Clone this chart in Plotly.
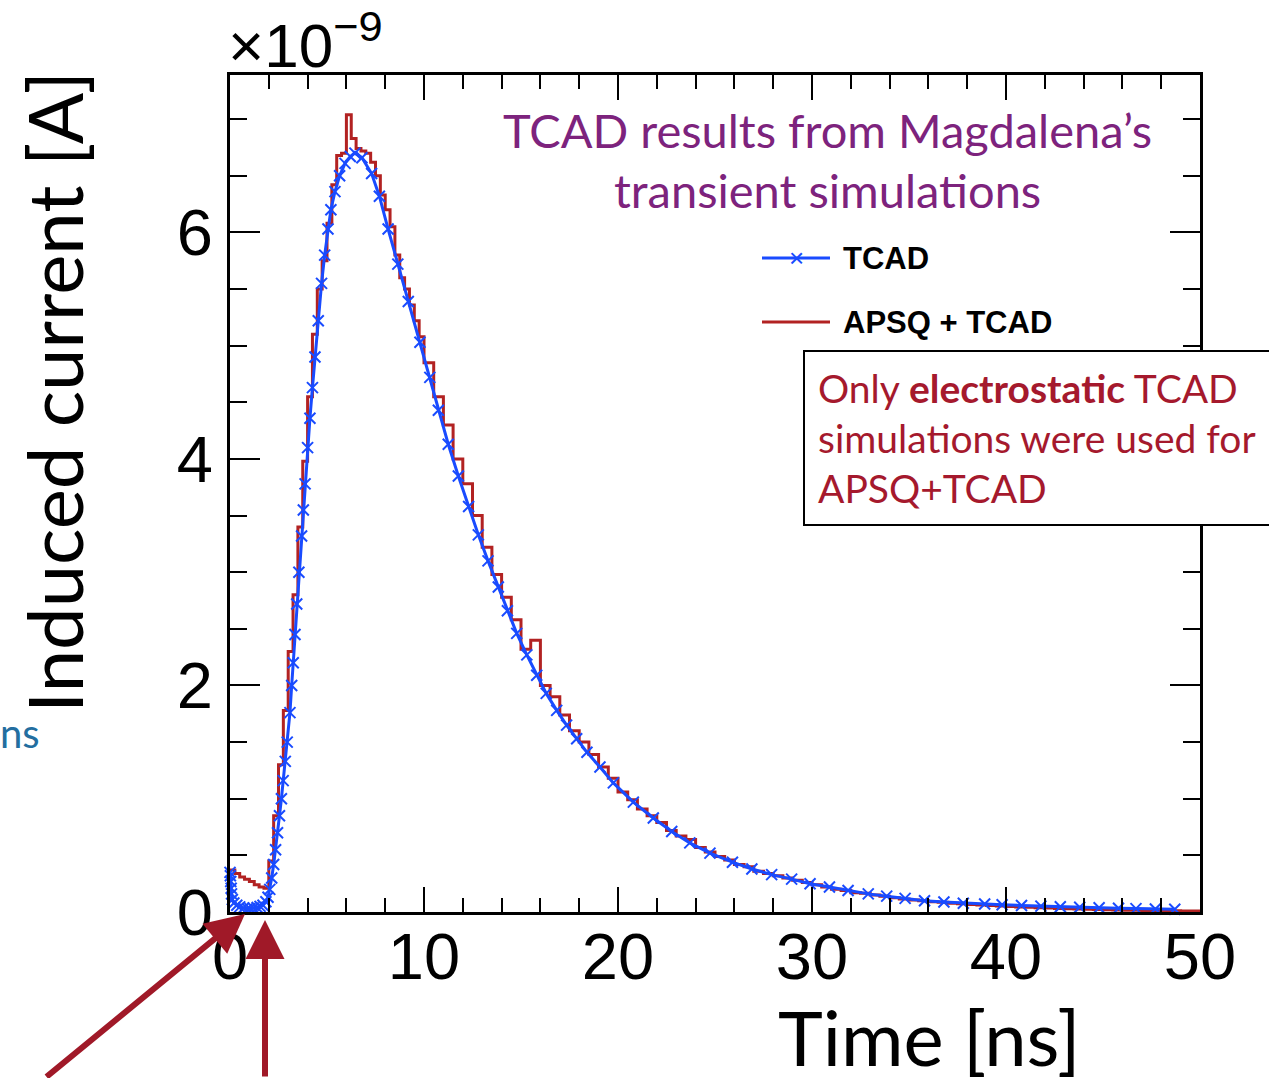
import plotly.graph_objects as go

# ---------------- data ----------------
# TCAD transient simulation (blue, markers at simulation time steps) [ns], [1e-9 A]
tcad_t = [0.0, 0.02, 0.04, 0.06, 0.08, 0.12, 0.2, 0.35, 0.5, 0.7, 0.9, 1.03, 1.2, 1.4, 1.55, 1.7, 1.85,
          1.96, 2.05, 2.15, 2.25, 2.35, 2.45, 2.55, 2.65, 2.74, 2.85, 2.95, 3.09, 3.18, 3.26, 3.35,
          3.44, 3.55, 3.69, 3.78, 3.87, 4.0, 4.12, 4.25, 4.38, 4.55, 4.72, 4.88, 5.05, 5.2, 5.41,
          5.65, 5.93, 6.2, 6.44, 6.8, 7.3, 7.7, 8.15, 8.65, 9.19, 9.79, 10.3, 10.74, 11.25, 11.77,
          12.3, 12.8, 13.3, 13.83, 14.3, 14.78, 15.3, 15.81, 16.3, 16.84, 17.35, 17.87, 18.4, 19.07,
          19.76, 20.79, 21.82, 22.77, 23.7, 24.74, 25.9, 26.9, 27.92, 28.95, 29.9, 30.9, 31.86,
          32.9, 33.85, 34.8, 35.8, 36.8, 37.8, 38.9, 39.8, 40.8, 41.8, 42.8, 43.8, 44.8, 45.8,
          46.7, 47.7, 48.7]
tcad_i = [0.35, 0.32, 0.27, 0.21, 0.16, 0.11, 0.08, 0.06, 0.045, 0.035, 0.03, 0.03, 0.035, 0.04, 0.05,
          0.06, 0.09, 0.13, 0.2, 0.3, 0.42, 0.55, 0.7, 0.85, 1.0, 1.16, 1.33, 1.5, 1.76, 2.0, 2.2, 2.45,
          2.72, 3.0, 3.32, 3.55, 3.78, 4.1, 4.36, 4.63, 4.9, 5.22, 5.55, 5.8, 6.03, 6.2, 6.36,
          6.5, 6.61, 6.67, 6.70, 6.66, 6.52, 6.32, 6.03, 5.72, 5.39, 5.03, 4.72, 4.43, 4.13, 3.85,
          3.58, 3.33, 3.1, 2.87, 2.66, 2.46, 2.27, 2.09, 1.93, 1.78, 1.65, 1.53, 1.41, 1.28,
          1.14, 0.97, 0.83, 0.71, 0.61, 0.52, 0.44, 0.38, 0.33, 0.29, 0.25, 0.22, 0.19,
          0.16, 0.14, 0.12, 0.10, 0.088, 0.078, 0.07, 0.064, 0.058, 0.052, 0.047, 0.042, 0.037, 0.033,
          0.03, 0.027, 0.024]

# APSQ + TCAD histogram (red): bin left edges [ns] and contents [1e-9 A]
apsq_edges = [0.0, 0.25, 0.5, 0.75, 1.0, 1.25, 1.5, 1.75, 2.0, 2.25, 2.5, 2.75, 3.0, 3.25, 3.5, 3.75,
              4.0, 4.25, 4.5, 4.75, 5.0, 5.25, 5.5, 5.75, 6.0, 6.25, 6.5, 6.75, 7.0, 7.25, 7.5, 7.75,
              8.0, 8.25, 8.5, 8.75, 9.0, 9.25, 9.5, 9.75,
              10.0, 10.5, 11.0, 11.5, 12.0, 12.5, 13.0, 13.5, 14.0, 14.5, 15.0, 15.5, 16.0, 16.5,
              17.0, 17.5, 18.0, 18.5, 19.0, 19.5, 20.0, 20.5, 21.0, 21.5, 22.0, 22.5, 23.0, 23.5,
              24.0, 24.5, 25.0, 25.5, 26.0, 26.5, 27.0, 27.5, 28.0, 28.5, 29.0, 29.5, 30.0, 30.5,
              31.0, 31.5, 32.0, 32.5, 33.0, 33.5, 34.0, 34.5, 35.0, 35.5, 36.0, 36.5, 37.0, 37.5,
              38.0, 38.5, 39.0, 39.5, 40.0, 40.5, 41.0, 41.5, 42.0, 42.5, 43.0, 43.5, 44.0, 44.5,
              45.0, 45.5, 46.0, 46.5, 47.0, 47.5, 48.0, 48.5, 49.0, 49.5]
apsq_i = [0.37, 0.34, 0.31, 0.29, 0.27, 0.24, 0.22, 0.21, 0.45, 0.85, 1.3, 1.78, 2.3, 2.8, 3.4, 3.98,
          4.55, 5.1, 5.5, 5.75, 6.08, 6.42, 6.68, 6.7, 7.04, 6.83, 6.74, 6.72, 6.7, 6.62, 6.5, 6.33,
          6.2, 6.05, 5.8, 5.6, 5.5, 5.36, 5.22, 5.08,
          4.85, 4.55, 4.3, 4.0, 3.78, 3.5, 3.22, 2.98, 2.78, 2.58, 2.32, 2.4, 2.0, 1.9,
          1.74, 1.6, 1.5, 1.39, 1.28, 1.18, 1.06, 0.99, 0.91, 0.85, 0.79, 0.72, 0.67, 0.64,
          0.57, 0.53, 0.49, 0.46, 0.42, 0.4, 0.36, 0.34, 0.32, 0.3, 0.28, 0.26, 0.24, 0.22,
          0.2, 0.19, 0.17, 0.165, 0.15, 0.14, 0.125, 0.115, 0.105, 0.1, 0.09, 0.085, 0.078, 0.072,
          0.067, 0.062, 0.058, 0.053, 0.049, 0.045, 0.041, 0.038, 0.035, 0.031, 0.029, 0.027, 0.025, 0.022,
          0.02, 0.018, 0.016, 0.015, 0.013, 0.012, 0.011, 0.01, 0.009, 0.008]
hist_end = 50.0

x_ticks = [0, 10, 20, 30, 40, 50]
y_ticks = [0, 2, 4, 6]
x_range = [0, 50]
y_range = [0, 7.39]

# ---------------- figure ----------------
W, H = 1269, 1078
L, R, T, B = 230, 69, 75, 166
PW, PH = W - L - R, H - T - B


def xp(px):
    return (px - L) / PW


def yp(py):
    return (H - B - py) / PH


BLUE = "rgb(25,75,255)"
RED = "rgb(178,34,34)"
HELV = "Liberation Sans, Arial, sans-serif"
AVENIR = "Lato, Noto Sans, sans-serif"

fig = go.Figure()

hx = apsq_edges + [hist_end]
hy = apsq_i + [apsq_i[-1]]
fig.add_trace(go.Scatter(x=hx, y=hy, mode="lines", line=dict(color=RED, width=3, shape="hv"),
                         name="APSQ + TCAD", showlegend=False, cliponaxis=True))
fig.add_trace(go.Scatter(x=tcad_t, y=tcad_i, mode="lines+markers",
                         line=dict(color=BLUE, width=3),
                         marker=dict(symbol="x-thin", size=11, line=dict(color=BLUE, width=2)),
                         name="TCAD", showlegend=False, cliponaxis=False))

fig.update_layout(
    width=W, height=H,
    margin=dict(l=L, r=R, t=T, b=B, pad=0),
    paper_bgcolor="white", plot_bgcolor="white",
    showlegend=False,
    xaxis=dict(range=x_range, tickvals=x_ticks, ticktext=[str(v) for v in x_ticks],
               showgrid=False, zeroline=False, showline=True, linecolor="black", linewidth=3,
               mirror="allticks", ticks="inside", ticklen=25, tickwidth=2, tickcolor="black",
               ticklabelstandoff=-14,
               tickfont=dict(family=HELV, size=65, color="black"),
               minor=dict(dtick=2, ticks="inside", ticklen=14, tickwidth=2, tickcolor="black",
                          showgrid=False)),
    yaxis=dict(range=y_range, tickvals=y_ticks, ticktext=[str(v) for v in y_ticks],
               showgrid=False, zeroline=False, showline=True, linecolor="black", linewidth=3,
               mirror="allticks", ticks="inside", ticklen=30, tickwidth=2, tickcolor="black",
               ticklabelstandoff=1,
               tickfont=dict(family=HELV, size=65, color="black"),
               minor=dict(dtick=0.5, ticks="inside", ticklen=17, tickwidth=2, tickcolor="black",
                          showgrid=False)),
)

ann = []
# exponent label
ann.append(dict(text="×10<sup>−9</sup>", x=xp(226), y=yp(82), xref="paper", yref="paper",
                xanchor="left", yanchor="bottom", showarrow=False,
                font=dict(family=HELV, size=62, color="black")))
# axis titles
ann.append(dict(text="Induced current [A]", x=xp(53), y=yp(392), xref="paper", yref="paper",
                textangle=-90, xanchor="center", yanchor="middle", showarrow=False,
                font=dict(family=AVENIR, size=76, color="black")))
ann.append(dict(text="Time [ns]", x=xp(1082), y=yp(1036), xref="paper", yref="paper",
                xanchor="right", yanchor="middle", showarrow=False,
                font=dict(family=AVENIR, size=76, color="black")))
# stray text at left edge
ann.append(dict(text="ns", x=xp(-2), y=yp(733), xref="paper", yref="paper",
                xanchor="left", yanchor="middle", showarrow=False,
                font=dict(family=AVENIR, size=40, color="rgb(35,110,160)")))
# purple caption
PURPLE = "rgb(125,35,125)"
ann.append(dict(text="TCAD results from Magdalena’s", x=xp(827), y=yp(130), xref="paper", yref="paper",
                xanchor="center", yanchor="middle", showarrow=False,
                font=dict(family=AVENIR, size=47, color=PURPLE)))
ann.append(dict(text="transient simulations", x=xp(827), y=yp(190), xref="paper", yref="paper",
                xanchor="center", yanchor="middle", showarrow=False,
                font=dict(family=AVENIR, size=47, color=PURPLE)))
# legend text
ann.append(dict(text="<b>TCAD</b>", x=xp(841), y=yp(258), xref="paper", yref="paper",
                xanchor="left", yanchor="middle", showarrow=False,
                font=dict(family=HELV, size=31, color="black")))
ann.append(dict(text="<b>APSQ + TCAD</b>", x=xp(841), y=yp(322), xref="paper", yref="paper",
                xanchor="left", yanchor="middle", showarrow=False,
                font=dict(family=HELV, size=31, color="black")))
ann.append(dict(text="×", x=xp(796), y=yp(258), xref="paper", yref="paper",
                xanchor="center", yanchor="middle", showarrow=False,
                font=dict(family=HELV, size=26, color=BLUE)))
# note box text
DRED = "rgb(165,25,45)"
ann.append(dict(text="Only <b>electrostatic</b> TCAD", x=xp(816), y=yp(388), xref="paper", yref="paper",
                xanchor="left", yanchor="middle", showarrow=False,
                font=dict(family=AVENIR, size=39, color=DRED)))
ann.append(dict(text="simulations were used for", x=xp(816), y=yp(438), xref="paper", yref="paper",
                xanchor="left", yanchor="middle", showarrow=False,
                font=dict(family=AVENIR, size=39, color=DRED)))
ann.append(dict(text="APSQ+TCAD", x=xp(816), y=yp(488), xref="paper", yref="paper",
                xanchor="left", yanchor="middle", showarrow=False,
                font=dict(family=AVENIR, size=39, color=DRED)))
# arrows
ann.append(dict(text="", x=xp(245), y=yp(914), xref="paper", yref="paper",
                ax=-200, ay=166, axref="pixel", ayref="pixel", showarrow=True,
                arrowhead=2, arrowsize=1.3, arrowwidth=6, arrowcolor="rgb(160,25,40)", standoff=0))
ann.append(dict(text="", x=xp(265), y=yp(920), xref="paper", yref="paper",
                ax=0, ay=170, axref="pixel", ayref="pixel", showarrow=True,
                arrowhead=2, arrowsize=1.3, arrowwidth=6, arrowcolor="rgb(160,25,40)", standoff=0))
fig.update_layout(annotations=ann)

shapes = []
shapes.append(dict(type="line", xref="paper", yref="paper", x0=xp(762), x1=xp(830),
                   y0=yp(258), y1=yp(258), line=dict(color=BLUE, width=3)))
shapes.append(dict(type="line", xref="paper", yref="paper", x0=xp(762), x1=xp(830),
                   y0=yp(322), y1=yp(322), line=dict(color=RED, width=3)))
shapes.append(dict(type="rect", xref="paper", yref="paper", x0=xp(804), x1=xp(1285),
                   y0=yp(351), y1=yp(525), line=dict(color="black", width=2),
                   fillcolor="white", layer="above"))
fig.update_layout(shapes=shapes)

fig.write_html("out.html")
